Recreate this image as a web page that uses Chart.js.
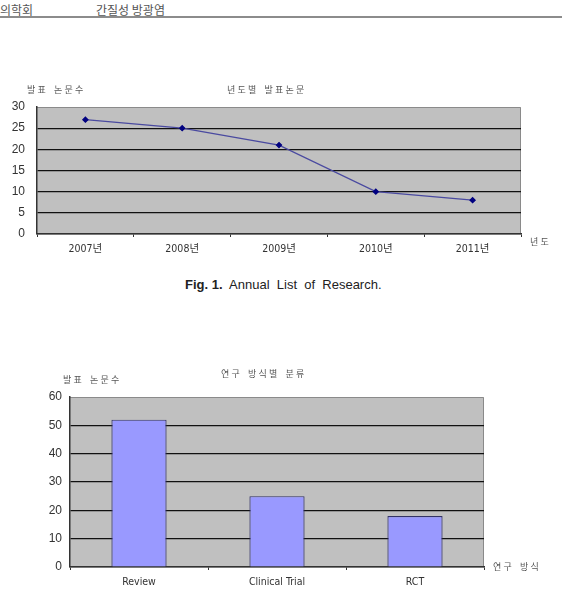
<!DOCTYPE html>
<html>
<head>
<meta charset="utf-8">
<script src="https://cdn.jsdelivr.net/npm/chart.js@4.4.1/dist/chart.umd.min.js"></script>
<style>
  body { margin: 0; background: #fff; width: 562px; height: 601px; position: relative; overflow: hidden;
         font-family: "Liberation Sans", "Noto Sans CJK KR", sans-serif; }
  .hd { position: absolute; top: 1px; font-size: 12px; color: #555; font-family: "Noto Sans CJK KR", sans-serif; }
  .rule { position: absolute; left: 0; top: 16px; width: 562px; height: 2px; background: #8c8c8c; }
  .cap { position: absolute; top: 277px; left: 185px; font-size: 13px; color: #222; }
  .cap b { font-weight: bold; }
  canvas { position: absolute; left: 0; }
</style>
</head>
<body>
<div class="hd" style="left:0">의학회</div>
<div class="hd" style="left:96px">간질성 방광염</div>
<div class="rule"></div>

<canvas id="lineChart" style="top:60px" width="562" height="210"></canvas>
<div class="cap"><b>Fig. 1.</b>&nbsp; Annual &nbsp;List &nbsp;of &nbsp;Research.</div>
<canvas id="barChart" style="top:360px" width="562" height="241"></canvas>

<script>
// data - bovenste grafiek (jaarlijks)
const years = ['2007년', '2008년', '2009년', '2010년', '2011년'];
const papersPerYear = [27, 25, 21, 10, 8];
const yearTicks = [0, 5, 10, 15, 20, 25, 30];

// data - onderste grafiek (per methode)
const methods = ['Review', 'Clinical Trial', 'RCT'];
const papersPerMethod = [52, 25, 18];
const methodTicks = [0, 10, 20, 30, 40, 50, 60];

const korFont = '"Noto Sans CJK KR", sans-serif';

// grijze achtergrond + gespatieerde titels rond het plotgebied
const plotDeco = {
  id: 'plotDeco',
  beforeDraw(chart, args, opts) {
    const { ctx, chartArea: a } = chart;
    ctx.save();
    ctx.fillStyle = '#c0c0c0';
    ctx.fillRect(a.left, a.top, a.right - a.left, a.bottom - a.top);
    ctx.strokeStyle = '#8a8a8a';
    ctx.lineWidth = 1;
    ctx.beginPath();
    ctx.moveTo(a.left, a.top + 0.5);
    ctx.lineTo(a.right - 0.5, a.top + 0.5);
    ctx.lineTo(a.right - 0.5, a.bottom);
    ctx.stroke();
    ctx.restore();
  },
  afterDraw(chart, args, opts) {
    const { ctx } = chart;
    ctx.save();
    ctx.fillStyle = '#555';
    ctx.font = '9px ' + korFont;
    ctx.textBaseline = 'middle';
    ctx.textAlign = 'left';
    opts.texts.forEach(t => {
      // elk teken apart, zoals in het origineel
      let x = t.x;
      for (const ch of t.text) {
        if (ch === ' ') { x += 3; continue; }
        ctx.fillText(ch, x, t.y);
        x += 7.5;
      }
    });
    ctx.restore();
  }
};

function yScale(ticks, width, pad) {
  return {
    min: ticks[0],
    max: ticks[ticks.length - 1],
    afterBuildTicks: s => { s.ticks = ticks.map(v => ({ value: v })); },
    afterFit: s => { s.width = width; },
    ticks: { color: '#333', padding: pad, font: { size: 12, family: '"Liberation Sans", sans-serif' } },
    grid: {
      color: c => (c.tick && c.tick.value === ticks[ticks.length - 1]) ? 'rgba(0,0,0,0)' : '#111',
      lineWidth: 1.2,
      drawTicks: false
    },
    border: { color: '#333', width: 1.5 }
  };
}

function xScale(height) {
  return {
    offset: true,
    afterFit: s => { s.height = height; },
    ticks: { color: '#333', padding: 6, font: { size: 10.5, family: '"DejaVu Sans Condensed", "Noto Sans CJK KR", sans-serif' } },
    grid: { offset: true, drawOnChartArea: false, drawTicks: true, tickLength: 3, color: '#333' },
    border: { color: '#333', width: 1.5 }
  };
}

// lijngrafiek
new Chart(document.getElementById('lineChart'), {
  type: 'line',
  data: {
    labels: years,
    datasets: [{
      data: papersPerYear,
      borderColor: '#4a4aa0',
      borderWidth: 1.3,
      pointStyle: 'rectRot',
      pointRadius: 2.5,
      pointBackgroundColor: '#000080',
      pointBorderColor: '#000080',
      tension: 0
    }]
  },
  options: {
    responsive: false,
    animation: false,
    layout: { padding: { left: 0, right: 41, top: 47, bottom: 0 } },
    scales: { x: xScale(36), y: yScale(yearTicks, 37, 12) },
    plugins: {
      legend: { display: false },
      tooltip: { enabled: false },
      plotDeco: {
        texts: [
          { text: '발 표   논 문 수', x: 27, y: 30 },
          { text: '년 도 별   발 표 논 문', x: 227, y: 30 },
          { text: '년 도', x: 530, y: 182 }
        ]
      }
    }
  },
  plugins: [plotDeco]
});

// staafgrafiek
new Chart(document.getElementById('barChart'), {
  type: 'bar',
  data: {
    labels: methods,
    datasets: [{
      data: papersPerMethod,
      backgroundColor: '#9999ff',
      borderColor: '#333366',
      borderWidth: 1.2,
      barPercentage: 0.4,
      categoryPercentage: 1
    }]
  },
  options: {
    responsive: false,
    animation: false,
    layout: { padding: { left: 0, right: 78, top: 37, bottom: 0 } },
    scales: { x: xScale(34), y: yScale(methodTicks, 70, 8) },
    plugins: {
      legend: { display: false },
      tooltip: { enabled: false },
      plotDeco: {
        texts: [
          { text: '발 표   논 문 수', x: 63, y: 20 },
          { text: '연 구   방 식 별   분 류', x: 221, y: 14 },
          { text: '연 구   방 식', x: 493, y: 207 }
        ]
      }
    }
  },
  plugins: [plotDeco]
});
</script>
</body>
</html>
